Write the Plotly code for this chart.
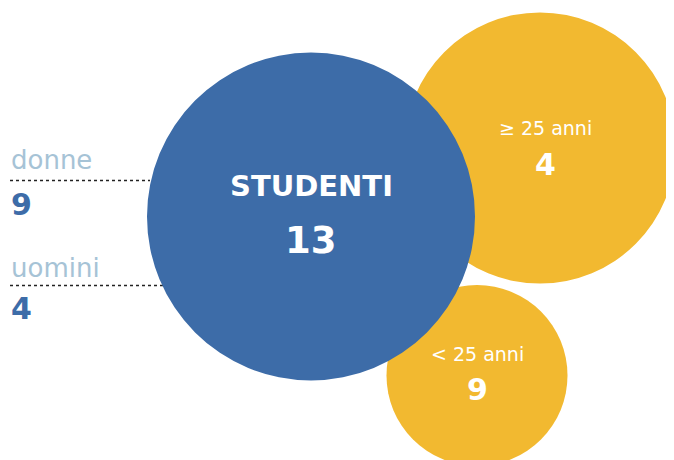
import plotly.graph_objects as go

# ---- data ----
total_label = "STUDENTI"
total_value = 13
age_labels = ["≥ 25 anni", "< 25 anni"]
age_values = [4, 9]
gender_labels = ["donne", "uomini"]
gender_values = [9, 4]

# ---- styles / layout ----
W, H = 674, 460
OFF = 8  # page body margin
BLUE = "#3d6ca8"
YELLOW = "#f2b930"
LIGHT = "#a6c3d6"
FONT = "DejaVu Sans"

main_circle = dict(cx=311, cy=216.5, r=164)
age_circles = [dict(cx=540, cy=148, r=135.5, tx=545, ly=128, vy=164),
               dict(cx=477, cy=375.5, r=90.5, tx=477, ly=354, vy=389)]
gender_rows = [dict(label_y=160, line_y=180.5, line_x1=150, value_y=204),
               dict(label_y=268, line_y=285.5, line_x1=163, value_y=308)]

fig = go.Figure()
fig.add_trace(go.Scatter(x=[OFF, W], y=[OFF, H], mode="markers",
                         marker=dict(opacity=0), hoverinfo="skip", showlegend=False))

shapes = []
for c in age_circles:
    shapes.append(dict(type="circle", xref="x", yref="y",
                       x0=c["cx"] - c["r"], x1=c["cx"] + c["r"],
                       y0=c["cy"] - c["r"], y1=c["cy"] + c["r"],
                       fillcolor=YELLOW, line=dict(width=0), layer="above"))
for g in gender_rows:
    shapes.append(dict(type="line", xref="x", yref="y",
                       x0=10, x1=g["line_x1"], y0=g["line_y"], y1=g["line_y"],
                       line=dict(color="#222222", width=1.5, dash="dot"), layer="above"))
m = main_circle
shapes.append(dict(type="circle", xref="x", yref="y",
                   x0=m["cx"] - m["r"], x1=m["cx"] + m["r"],
                   y0=m["cy"] - m["r"], y1=m["cy"] + m["r"],
                   fillcolor=BLUE, line=dict(width=0), layer="above"))

ann = []
def txt(x, y, s, size, color, weight="bold", xanchor="center"):
    ann.append(dict(x=x, y=y, xref="x", yref="y", text=s, showarrow=False,
                    xanchor=xanchor, yanchor="middle",
                    font=dict(family=FONT, size=size, color=color, weight=weight)))

txt(m["cx"], 186, total_label, 29, "white")
txt(m["cx"], 240, str(total_value), 37, "white")
for c, lab, val in zip(age_circles, age_labels, age_values):
    txt(c["tx"], c["ly"], lab, 19, "white", weight="normal")
    txt(c["tx"], c["vy"], str(val), 30, "white")
for g, lab, val in zip(gender_rows, gender_labels, gender_values):
    txt(9, g["label_y"], lab, 26, LIGHT, weight="normal", xanchor="left")
    txt(9, g["value_y"], str(val), 30, BLUE, weight="bold", xanchor="left")

fig.update_layout(
    width=W - OFF, height=H - OFF, margin=dict(l=0, r=0, t=0, b=0),
    paper_bgcolor="white", plot_bgcolor="white",
    xaxis=dict(range=[OFF, W], visible=False, fixedrange=True),
    yaxis=dict(range=[H, OFF], visible=False, fixedrange=True),
    shapes=shapes, annotations=ann, showlegend=False,
)
fig.write_html("out.html")
